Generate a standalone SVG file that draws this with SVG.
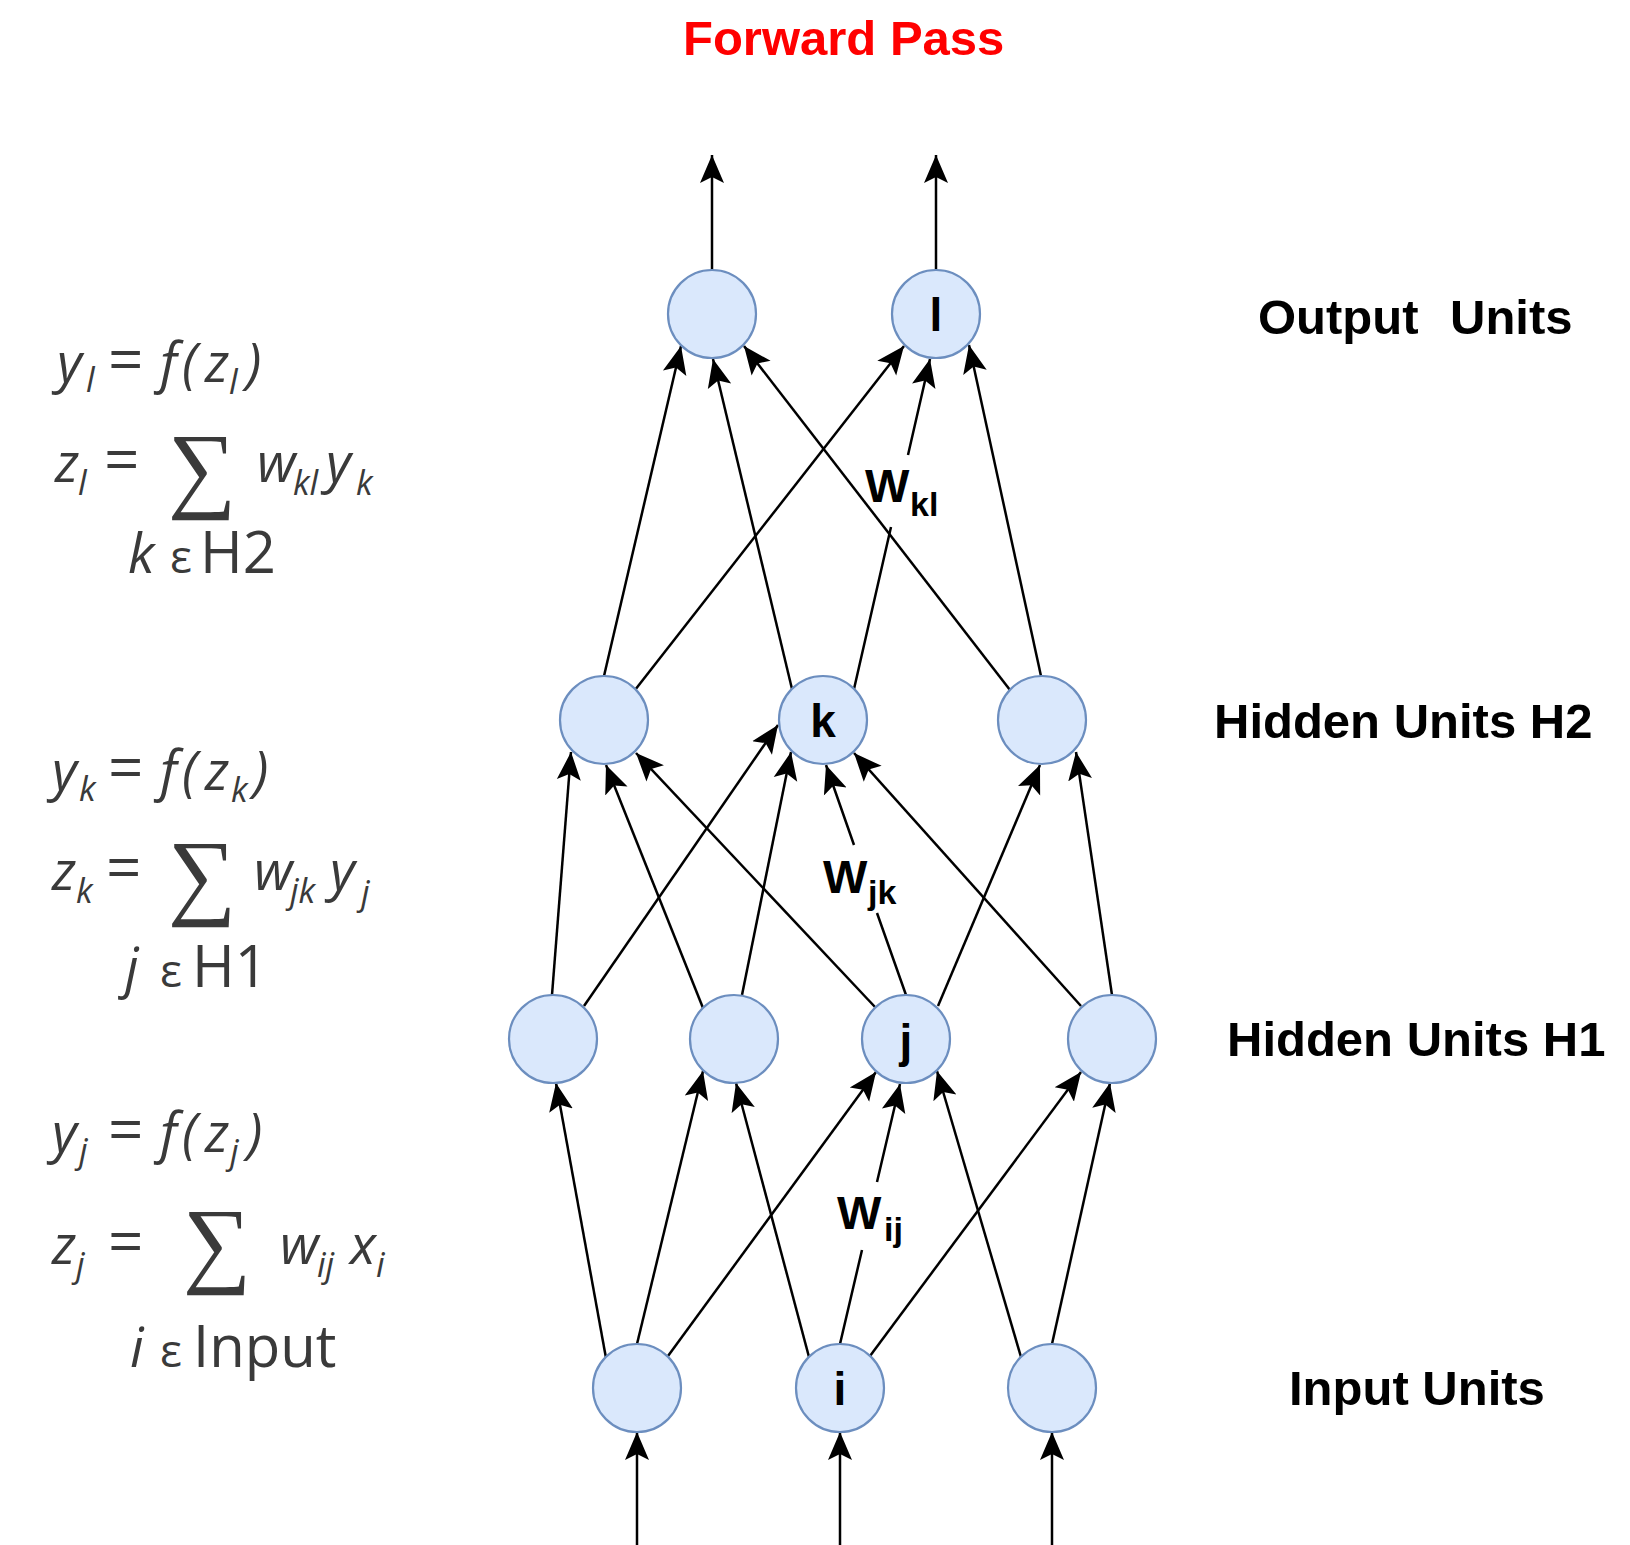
<svg xmlns="http://www.w3.org/2000/svg" width="1630" height="1545" viewBox="0 0 1630 1545">
<defs>
<style>
.edge{fill:none;stroke:#000;stroke-width:2.5;marker-end:url(#arr);}
.node circle{fill:#dae8fc;stroke:#6c8ebf;stroke-width:2.2;}
.nl{font-family:"Liberation Sans",Arial,sans-serif;font-weight:bold;font-size:46px;text-anchor:middle;fill:#000;}
.layer{font-family:"Liberation Sans",Arial,sans-serif;font-weight:bold;font-size:49px;fill:#000;}
.title{font-family:"Liberation Sans",Arial,sans-serif;font-weight:bold;font-size:49px;fill:#ff0000;}
.wl{font-family:"Liberation Sans",Arial,sans-serif;font-weight:bold;font-size:47px;fill:#000;}
.ws{font-size:34px;}
.m{font-family:"Open Sans","DejaVu Sans",sans-serif;font-style:italic;font-size:54px;fill:#3a3a3a;}
.s{font-size:34px;}
.eq{font-style:normal;font-size:62px;}
.eps{font-style:normal;font-size:46px;}
.big{font-style:normal;font-size:58px;}
.sum{font-family:"Liberation Serif","DejaVu Serif",serif;font-style:normal;font-size:96px;fill:#3a3a3a;}
</style>
<marker id="arr" markerWidth="30" markerHeight="26" refX="28" refY="13" orient="auto" markerUnits="userSpaceOnUse" viewBox="0 0 30 26">
<path d="M28,13 L0,1 L6,13 L0,25 Z" fill="#000"/>
</marker>
</defs>
<rect width="1630" height="1545" fill="#fff"/>

<text class="title" x="683" y="55">Forward Pass</text>

<g id="connectors">
<path class="edge" d="M606,1358 L556,1083"/>
<path class="edge" d="M637,1344 L703,1071"/>
<path class="edge" d="M668,1356 L876,1072"/>
<path class="edge" d="M809,1357 L736,1083"/>
<path class="edge" d="M840,1344 L862,1250 M877,1182 L900,1084"/>
<path class="edge" d="M870,1356 L1081,1072"/>
<path class="edge" d="M1021,1357 L937,1071"/>
<path class="edge" d="M1052,1344 L1110,1083"/>
<path class="edge" d="M552,995 L571,752"/>
<path class="edge" d="M584,1006 L778,725"/>
<path class="edge" d="M703,1008 L606,765"/>
<path class="edge" d="M742,995 L791,752"/>
<path class="edge" d="M875,1007 L636,753"/>
<path class="edge" d="M906,995 L877,913 M854,845 L826,765"/>
<path class="edge" d="M938,1006 L1040,765"/>
<path class="edge" d="M1081,1006 L854,753"/>
<path class="edge" d="M1112,995 L1076,752"/>
<path class="edge" d="M604,676 L681,346"/>
<path class="edge" d="M635,690 L904,346"/>
<path class="edge" d="M792,689 L713,359"/>
<path class="edge" d="M854,689 L891,527 M908,455 L930,359"/>
<path class="edge" d="M1010,690 L744,346"/>
<path class="edge" d="M1041,676 L969,345"/>
<path class="edge" d="M712,270 L712,155"/>
<path class="edge" d="M936,270 L936,155"/>
<path class="edge" d="M637,1545 L637,1432"/>
<path class="edge" d="M840,1545 L840,1432"/>
<path class="edge" d="M1052,1545 L1052,1432"/>
</g>

<g id="weight-labels">
<text class="wl" x="865" y="502">W<tspan class="ws" x="910" y="516">kl</tspan></text>
<text class="wl" x="823" y="893">W<tspan class="ws" x="868" y="904">jk</tspan></text>
<text class="wl" x="837" y="1229">W<tspan class="ws" x="884" y="1241">ij</tspan></text>
</g>

<g id="node-o1" class="node"><circle cx="712" cy="314" r="44"/></g>
<g id="node-l" class="node"><circle cx="936" cy="314" r="44"/><text class="nl" x="936" y="331">l</text></g>
<g id="node-h2a" class="node"><circle cx="604" cy="720" r="44"/></g>
<g id="node-k" class="node"><circle cx="823" cy="720" r="44"/><text class="nl" x="823" y="737">k</text></g>
<g id="node-h2c" class="node"><circle cx="1042" cy="720" r="44"/></g>
<g id="node-h1a" class="node"><circle cx="553" cy="1039" r="44"/></g>
<g id="node-h1b" class="node"><circle cx="734" cy="1039" r="44"/></g>
<g id="node-j" class="node"><circle cx="906" cy="1039" r="44"/><text class="nl" x="906" y="1057">j</text></g>
<g id="node-h1d" class="node"><circle cx="1112" cy="1039" r="44"/></g>
<g id="node-in1" class="node"><circle cx="637" cy="1388" r="44"/></g>
<g id="node-i" class="node"><circle cx="840" cy="1388" r="44"/><text class="nl" x="840" y="1405">i</text></g>
<g id="node-in3" class="node"><circle cx="1052" cy="1388" r="44"/></g>

<g id="layer-labels">
<text class="layer" x="1258" y="334">Output<tspan x="1450">Units</tspan></text>
<text class="layer" x="1214" y="738">Hidden Units H2</text>
<text class="layer" x="1227" y="1056">Hidden Units H1</text>
<text class="layer" x="1289" y="1405">Input Units</text>
</g>

<g id="formula-output">
<text class="m" y="382"><tspan x="57">y</tspan><tspan class="s" x="86" y="392">l</tspan><tspan class="eq" x="108" y="382">=</tspan><tspan x="160">f</tspan><tspan x="182">(</tspan><tspan x="205">z</tspan><tspan class="s" x="229" y="394">l</tspan><tspan x="246" y="382">)</tspan></text>
<text class="m" y="482"><tspan x="55">z</tspan><tspan class="s" x="78" y="495">l</tspan><tspan class="eq" x="104" y="482">=</tspan><tspan x="257">w</tspan><tspan class="s" x="293" y="495">kl</tspan><tspan x="326" y="482">y</tspan><tspan class="s" x="356" y="495">k</tspan></text>
<text class="sum" x="168" y="500">∑</text>
<text class="m" y="573"><tspan x="128">k</tspan><tspan class="eps" x="170">ε</tspan><tspan class="big" x="200">H2</tspan></text>
</g>

<g id="formula-h2">
<text class="m" y="790"><tspan x="52">y</tspan><tspan class="s" x="79" y="801">k</tspan><tspan class="eq" x="108" y="790">=</tspan><tspan x="160">f</tspan><tspan x="182">(</tspan><tspan x="205">z</tspan><tspan class="s" x="231" y="802">k</tspan><tspan x="253" y="790">)</tspan></text>
<text class="m" y="890"><tspan x="52">z</tspan><tspan class="s" x="76" y="903">k</tspan><tspan class="eq" x="106" y="890">=</tspan><tspan x="254">w</tspan><tspan class="s" x="290" y="903">jk</tspan><tspan x="330" y="890">y</tspan><tspan class="s" x="361" y="905">j</tspan></text>
<text class="sum" x="168" y="907">∑</text>
<text class="m" y="987"><tspan x="125">j</tspan><tspan class="eps" x="160">ε</tspan><tspan class="big" x="192">H1</tspan></text>
</g>

<g id="formula-h1">
<text class="m" y="1152"><tspan x="52">y</tspan><tspan class="s" x="79" y="1163">j</tspan><tspan class="eq" x="108" y="1152">=</tspan><tspan x="160">f</tspan><tspan x="182">(</tspan><tspan x="205">z</tspan><tspan class="s" x="230" y="1164">j</tspan><tspan x="247" y="1152">)</tspan></text>
<text class="m" y="1264"><tspan x="52">z</tspan><tspan class="s" x="76" y="1277">j</tspan><tspan class="eq" x="108" y="1264">=</tspan><tspan x="280">w</tspan><tspan class="s" x="317" y="1277">ij</tspan><tspan x="350" y="1264">x</tspan><tspan class="s" x="376" y="1277">i</tspan></text>
<text class="sum" x="183" y="1275">∑</text>
<text class="m" y="1367"><tspan x="130">i</tspan><tspan class="eps" x="160">ε</tspan><tspan class="big" x="193">Input</tspan></text>
</g>
</svg>
